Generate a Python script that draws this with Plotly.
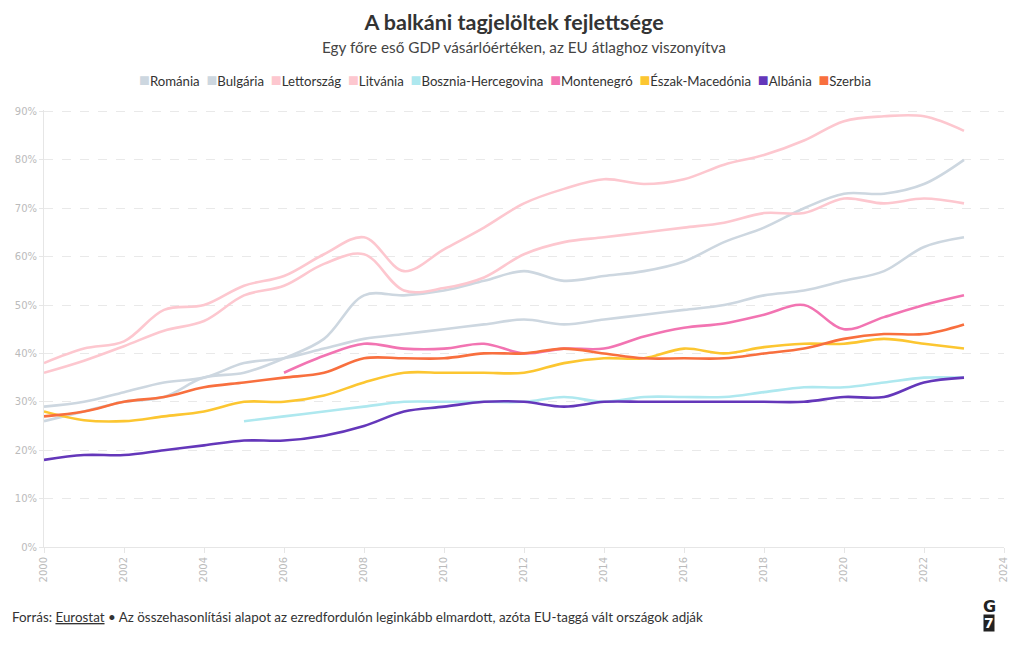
import plotly.graph_objects as go

years = list(range(2000, 2024))

romania = [26, 28, 30, 31, 35, 36, 39, 43, 52, 52, 53, 55, 57, 55, 56, 57, 59, 63, 66, 70, 73, 73, 75, 80]
bulgaria = [29, 30, 32, 34, 35, 38, 39, 41, 43, 44, 45, 46, 47, 46, 47, 48, 49, 50, 52, 53, 55, 57, 62, 64]
latvia = [36, 38.5, 41.5, 44.7, 46.7, 52, 54, 58.5, 60.5, 53, 53.5, 55.7, 60.5, 63, 64, 65, 66, 67, 69, 69, 72, 71, 72, 71]
lithuania = [38, 41, 42.5, 49, 50, 54, 56, 60.5, 64, 57, 61.5, 66, 71, 74, 76, 75, 76, 79, 81, 84, 88, 89, 89, 86]
bosnia = [None] * 5 + [26, 27, 28, 29, 30, 30, 30, 30, 31, 30, 31, 31, 31, 32, 33, 33, 34, 35, 35]
montenegro = [None] * 6 + [36, 39.5, 42, 41, 41, 42, 40, 41, 41, 43.5, 45.3, 46.2, 48, 50, 45, 47.5, 50, 52]
n_macedonia = [28, 26.2, 26, 27, 28, 30, 30, 31.3, 34, 36, 36, 36, 36, 38, 39, 39, 41, 40, 41.3, 42, 42, 43, 42, 41]
albania = [18, 19, 19, 20, 21, 22, 22, 23, 25, 28, 29, 30, 30, 29, 30, 30, 30, 30, 30, 30, 31, 31, 34, 35]
serbia = [27, 28, 30, 31, 33, 34, 35, 36, 39, 39, 39, 40, 40, 41, 40, 39, 39, 39, 40, 41, 43, 44, 44, 46]

names = ["Románia", "Bulgária", "Lettország", "Litvánia", "Bosznia-Hercegovina",
         "Montenegró", "Észak-Macedónia", "Albánia", "Szerbia"]
series = [romania, bulgaria, latvia, lithuania, bosnia, montenegro, n_macedonia, albania, serbia]
colors = ["#cdd7e0", "#cdd7e0", "#fdc7cf", "#fdc7cf", "#aee8ef",
          "#f274b2", "#fcc631", "#6437ba", "#f86f3e"]

x_ticks = list(range(2000, 2025, 2))
y_ticks = list(range(0, 91, 10))
y_labels = [f"{v}%" for v in y_ticks]

FONT = "Source Sans Pro, Lato, sans-serif"

fig = go.Figure()
for name, vals, col in zip(names, series, colors):
    fig.add_trace(go.Scatter(
        x=years, y=vals, name=name, mode="lines",
        line=dict(color=col, width=2.6, shape="spline", smoothing=1.0),
        showlegend=False, connectgaps=False,
        hovertemplate="%{x}: %{y}%<extra>" + name + "</extra>",
    ))

legend_text = "  ".join(
    f"<span style='color:{c};font-size:18px'>■</span>{n}" for n, c in zip(names, colors)
)

# the page body adds an 8px offset, so the figure is 8px smaller than the window
fig.update_layout(
    width=1012, height=642,
    paper_bgcolor="white", plot_bgcolor="white",
    margin=dict(l=36, r=16, t=102, b=103, autoexpand=False),
    font=dict(family=FONT, color="#333333"),
    title=dict(
        text="<b>A balkáni tagjelöltek fejlettsége</b>",
        x=0.5, xanchor="center", y=1 - 14 / 642, yanchor="middle",
        font=dict(size=21.5, color="#333333", family=FONT),
    ),
    xaxis=dict(
        range=[2000, 2024], tickmode="array", tickvals=x_ticks, tickangle=-90,
        tickfont=dict(size=10, color="#bbbbbb", family="DejaVu Sans"),
        showgrid=False, showline=True, linecolor="#e6e6e6", linewidth=1,
        ticks="outside", ticklen=5, tickcolor="#e6e6e6", zeroline=False,
        fixedrange=True, automargin=False,
    ),
    yaxis=dict(
        range=[0, 90.3], tickmode="array", tickvals=y_ticks, ticktext=y_labels,
        tickfont=dict(size=10, color="#bbbbbb", family="DejaVu Sans"),
        showgrid=True, gridcolor="#e9e9e9", griddash="dash", gridwidth=1,
        showline=True, linecolor="#e6e6e6", linewidth=1,
        ticks="outside", ticklen=4, tickcolor="#e6e6e6", zeroline=False,
        fixedrange=True, automargin=False,
    ),
    annotations=[
        dict(text="Egy főre eső GDP vásárlóértéken, az EU átlaghoz viszonyítva",
             xref="paper", yref="paper", x=0.5, y=1.0 + 63 / 437, xanchor="center",
             yanchor="middle", showarrow=False,
             font=dict(size=15.3, color="#444444", family=FONT)),
        dict(text=legend_text,
             xref="paper", yref="paper", x=(505 - 44) / 960, y=1.0 + 31 / 437, xanchor="center",
             yanchor="middle", showarrow=False,
             font=dict(size=13.2, color="#333333", family=FONT)),
        dict(text="Forrás: <span style='text-decoration:underline'>Eurostat</span> • Az összehasonlítási alapot az ezredfordulón leginkább elmardott, azóta EU-taggá vált országok adják",
             xref="paper", yref="paper", x=-34 / 960, y=-70 / 437, xanchor="left",
             yanchor="middle", showarrow=False,
             font=dict(size=13.4, color="#333333", family=FONT)),
        dict(text="<b>G</b>", xref="paper", yref="paper", x=945 / 960, y=-59 / 437,
             xanchor="center", yanchor="middle", showarrow=False,
             font=dict(size=16, color="#222222", family="DejaVu Sans")),
        dict(text="<b>7</b>", xref="paper", yref="paper", x=945 / 960, y=-76 / 437,
             xanchor="center", yanchor="middle", showarrow=False, bgcolor="#222222",
             borderpad=0, font=dict(size=14, color="white", family="DejaVu Sans")),
    ],
)

fig.write_html("out.html")
